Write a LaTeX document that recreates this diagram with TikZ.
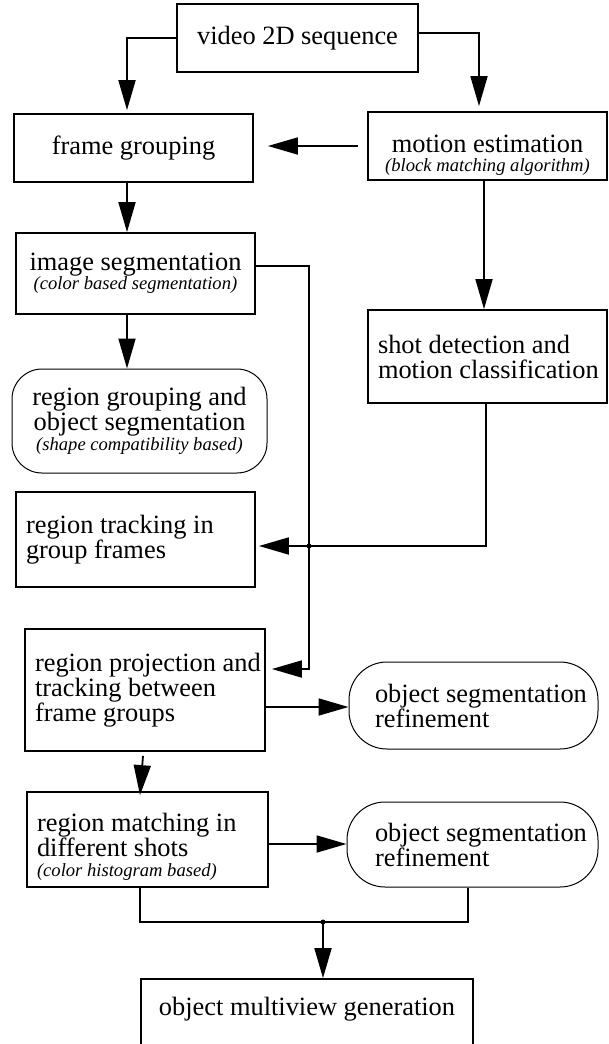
\documentclass[tikz,border=0pt]{standalone}
\usepackage{fontspec}
\setmainfont{Liberation Serif}
\usetikzlibrary{arrows.meta}
\newcommand{\subtext}[1]{{\fontsize{18.6}{19}\selectfont\itshape #1}}

\begin{document}
\begin{tikzpicture}[x=1pt,y=-1pt,line width=1.8pt,>={Triangle[length=30pt,width=17pt]},
	box/.style={draw,line width=1.8pt,inner sep=0pt,font=\fontsize{26.4}{25}\selectfont},
	lbox/.style={box,align=flush left,inner xsep=10pt},
	rbox/.style={draw,line width=1pt,inner sep=0pt,font=\fontsize{26.4}{25}\selectfont}]
	\useasboundingbox (0,0) rectangle (608,1044);
	\clip (0,0) rectangle (608,1044);
	% left column
	\node[box,minimum width=241pt,minimum height=68pt] (vid) at (297.5,38) {video 2D sequence};
	\node[box,minimum width=239pt,minimum height=68pt] (grp) at (133.5,148) {frame grouping};
	\node[box,align=center,minimum width=239pt,minimum height=81pt] (img) at (135.5,273.5) {image segmentation\\[-6pt] \subtext{(color based segmentation)}};
	\node[rbox,rounded corners=30pt,align=center,minimum width=255pt,minimum height=104pt] (rgn) at (139.5,421) {region grouping and\\object segmentation\\[-5pt] \subtext{(shape compatibility based)}};
	\node[lbox,text width=219pt,minimum height=95pt] (trk) at (135.5,539.5) {region tracking in\\group frames};
	\node[lbox,text width=220pt,minimum height=122pt] (prj) at (145,690) {\mbox{region projection and}\\tracking between\\frame groups};
	\node[lbox,text width=221pt,minimum height=95pt] (mat) at (147.5,839.5) {\rule{0pt}{33.5pt}region matching in\\different shots\\[-5pt] \subtext{(color histogram based)}};
	\node[box,minimum width=332pt,minimum height=72pt,text depth=18pt] (mvw) at (307,1015) {object multiview generation};
	% right column
	\node[box,align=center,minimum width=239pt,minimum height=68pt] (mot) at (487.5,146) {\rule{0pt}{36.5pt}motion estimation\\[-6pt] \subtext{(block matching algorithm)}};
	\node[lbox,text width=219pt,minimum height=93pt] (sht) at (487.5,356.5) {shot detection and\\\mbox{motion classification}};
	\node[rbox,rounded corners=38pt,align=flush left,inner xsep=26pt,text width=197pt,minimum height=87pt] (rf1) at (473.5,705.5) {\mbox{object segmentation}\\refinement};
	\node[rbox,rounded corners=38pt,align=flush left,inner xsep=28pt,text width=195pt,minimum height=85pt] (rf2) at (472.5,844.5) {\mbox{object segmentation}\\refinement};
	\coordinate (jn) at (309,546);
	\coordinate (mg) at (323,922);
	% connectors
	\draw[->] (vid.west) -| ([xshift=-6.5pt,yshift=3pt]grp.north);
	\draw[->] ([yshift=5pt]vid.east) -| ([xshift=-8.5pt,yshift=5pt]mot.north);
	\draw[->,shorten <=9pt,shorten >=14pt] (mot.west) -- (mot.west -| grp.east);
	\draw[->] ([xshift=-6.5pt]grp.south) -- ([xshift=-6.5pt]grp.south |- img.north);
	\draw[->] ([xshift=-8.5pt]img.south) -- ([xshift=-8.5pt]img.south |- rgn.north);
	\draw ([yshift=7.5pt]img.east) -| (jn);
	\draw[->] (jn) |- ([xshift=6pt,yshift=21pt]prj.east);
	\draw[->] ([xshift=-3.5pt]mot.south) -- ([xshift=-3.5pt]mot.south |- sht.north);
	\draw ([xshift=-1.5pt]sht.south) |- (jn);
	\draw[->,shorten >=3pt] (jn) -- (jn -| trk.east);
	\fill (jn) circle (2.5pt);
	\draw[->] ([yshift=-17pt]prj.east) -- ([yshift=-17pt]prj.east -| rf1.west);
	\draw[->] ([xshift=-2pt,yshift=-4pt]prj.south) -- ([xshift=-7.5pt,yshift=-4pt]mat.north);
	\draw[->] ([yshift=-4.5pt]mat.east) -- ([yshift=-4.5pt]mat.east -| rf2.west);
	\draw ([xshift=-7.5pt]mat.south) |- (mg) -| ([xshift=-4.5pt]rf2.south);
	\fill (mg) circle (2.5pt);
	\draw[->] (mg) -- (mg |- mvw.north);
\end{tikzpicture}
\end{document}
